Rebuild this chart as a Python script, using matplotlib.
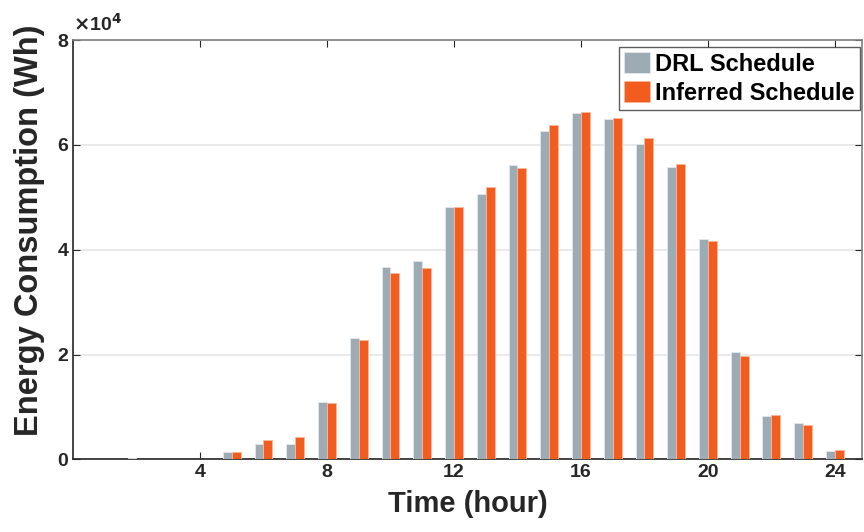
import numpy as np
import matplotlib
matplotlib.use("Agg")
import matplotlib.pyplot as plt
from matplotlib.ticker import FuncFormatter

# hourly energy use (Wh)
hours = list(range(1, 25))
drl = [0, 200, 0, 0, 1400, 2900, 2900, 11000, 23200, 36700, 37900, 48200,
       50600, 56100, 62700, 66000, 64900, 60200, 55800, 42100, 20500, 8200,
       6900, 1700]
inferred = [0, 0, 0, 0, 1500, 3700, 4200, 10800, 22800, 35600, 36600, 48200,
            51900, 55600, 63700, 66300, 65100, 61400, 56300, 41700, 19700, 8400,
            6500, 1800]
xticks = [4, 8, 12, 16, 20, 24]
yticks = [0, 20000, 40000, 60000, 80000]

plt.rcParams['font.family'] = ['Liberation Sans', 'DejaVu Sans']
plt.rcParams['font.weight'] = 'bold'

fig = plt.figure(figsize=(8.64, 5.32), dpi=100)
ax = fig.add_axes([0.0845, 0.1363, 0.913, 0.7885])

x = np.array(hours)
w = 0.28
ax.bar(x - w / 2, drl, width=w, color='#9dabb5', edgecolor='#e4e8ec',
       linewidth=0.6, label='DRL Schedule', zorder=3)
ax.bar(x + w / 2, inferred, width=w, color='#f25c1e', edgecolor='#f9b89a',
       linewidth=0.6, label='Inferred Schedule', zorder=3)

ax.set_xlim(0, 24.85)
ax.set_ylim(0, 80000)
ax.set_xticks(xticks)
ax.set_yticks(yticks)
ax.yaxis.set_major_formatter(FuncFormatter(lambda v, p: f"{v / 1e4:g}"))
ax.tick_params(direction='in', top=True, right=True, length=5, width=0.8,
               labelsize=14, colors='#262626')
for lab in ax.get_xticklabels() + ax.get_yticklabels():
    lab.set_fontweight('bold')

ax.grid(axis='y', color='#e6e6e6', linewidth=1.2, zorder=0)
ax.spines['left'].set_color('#262626')
ax.spines['bottom'].set_color('#262626')
ax.spines['top'].set_color('#808080')
ax.spines['right'].set_color('#808080')
for s in ax.spines.values():
    s.set_linewidth(1.2)

ax.set_xlabel('Time (hour)', fontsize=21, fontweight='bold', color='#262626',
              labelpad=6)
ax.set_ylabel('Energy Consumption (Wh)', fontsize=23.5, fontweight='bold',
              color='#262626')
ax.yaxis.set_label_coords(-0.0355, 0.547)

ax.text(0.0, 1.012, r'$\times$10$^{4}$', transform=ax.transAxes, fontsize=14,
        fontweight='bold', color='#262626', ha='left', va='bottom')

leg = ax.legend(loc='upper right', bbox_to_anchor=(0.9975, 0.983),
                fontsize=17, frameon=True, fancybox=False,
                handlelength=1.1, handleheight=1.0, handletextpad=0.2,
                borderpad=0.22, labelspacing=0.22, borderaxespad=0)
leg.get_frame().set_edgecolor('#333333')
leg.get_frame().set_linewidth(1.0)
for t in leg.get_texts():
    t.set_fontweight('bold')

fig.savefig('out.png', dpi=100)
